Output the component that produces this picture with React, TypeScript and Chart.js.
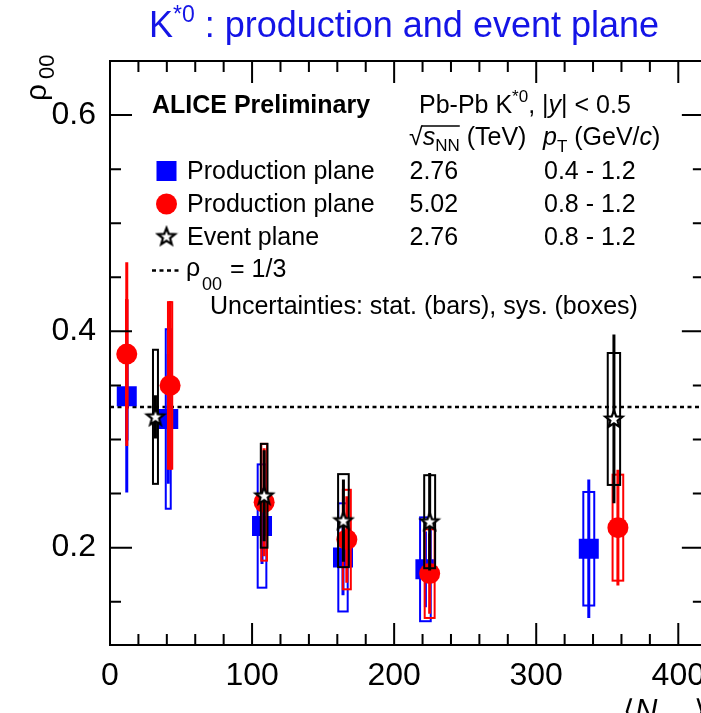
import React, { useEffect, useRef } from 'react';
import { Chart, registerables } from 'chart.js';

Chart.register(...registerables);

// ---------------- data ----------------
// Production plane, Pb-Pb 2.76 TeV, pT 0.4-1.2 (blue squares)
const X_BLUE = [11.8, 41, 107, 164, 222, 337];
const Y_BLUE = [0.34, 0.319, 0.22, 0.191, 0.18, 0.199];
const STAT_BLUE = [0.089, 0.06, 0.035, 0.035, 0.035, 0.064];
const SYS_BLUE = [0.04, 0.083, 0.057, 0.05, 0.048, 0.0525];
const SYSW_BLUE = [1, 3.5, 6.1, 6.6, 7.5, 7.7];

// Production plane, Pb-Pb 5.02 TeV, pT 0.8-1.2 (red circles)
const X_RED = [11.8, 42.3, 108.5, 166.7, 225, 357.5];
const Y_RED = [0.379, 0.35, 0.242, 0.2075, 0.176, 0.2185];
const STAT_RED = [0.085, 0.078, 0.05, 0.04, 0.037, 0.0535];
const SYS_RED = [0.05, 0.077, 0.054, 0.046, 0.041, 0.049];
const SYSW_RED = [1, 3, 4, 5.6, 7, 7.5];

// Event plane, Pb-Pb 2.76 TeV, pT 0.8-1.2 (open stars)
const X_BLACK = [32, 108.5, 164.3, 225, 354.7];
const Y_BLACK = [0.321, 0.248, 0.225, 0.224, 0.319];
const STAT_BLACK = [0.02, 0.042, 0.038, 0.045, 0.078];
const SYS_BLACK = [0.062, 0.048, 0.043, 0.043, 0.061];
const SYSW_BLACK = [3.5, 4.7, 7.5, 7.7, 8.7];

const RHO_LINE = 0.33;

const X_MIN = 0;
const X_MAX = 418;
const X_TICKS = [0, 100, 200, 300, 400];
const X_MINOR_STEP = 20;
const Y_MIN = 0.11;
const Y_MAX = 0.65;
const Y_TICKS = [0.2, 0.4, 0.6];
const Y_MINOR_STEP = 0.05;

const LEGEND_LABELS = ['Production plane', 'Production plane', 'Event plane'];
const LEGEND_SNN = ['2.76', '5.02', '2.76'];
const LEGEND_PT = ['0.4 - 1.2', '0.8 - 1.2', '0.8 - 1.2'];

const FONT = '"Liberation Sans", Arial, Helvetica, sans-serif';
const BLUE = '#0000ff';
const RED = '#ff0000';
const TITLE_BLUE = '#1414e6';

type Seg = { t: string; size?: number; dy?: number; it?: boolean; bold?: boolean };

function setFont(ctx: CanvasRenderingContext2D, s: Seg, base: number) {
  const size = s.size ?? base;
  ctx.font = `${s.it ? 'italic ' : ''}${s.bold ? 'bold ' : ''}${size}px ${FONT}`;
}

function richWidth(ctx: CanvasRenderingContext2D, segs: Seg[], base: number) {
  let w = 0;
  for (const s of segs) {
    setFont(ctx, s, base);
    w += ctx.measureText(s.t).width;
  }
  return w;
}

function drawRich(ctx: CanvasRenderingContext2D, segs: Seg[], x: number, y: number, base: number) {
  let cx = x;
  const pos: number[] = [];
  for (const s of segs) {
    setFont(ctx, s, base);
    pos.push(cx);
    ctx.fillText(s.t, cx, y + (s.dy ?? 0));
    cx += ctx.measureText(s.t).width;
  }
  pos.push(cx);
  return pos;
}

function makeStar(): HTMLCanvasElement {
  const c = document.createElement('canvas');
  c.width = 24;
  c.height = 24;
  const g = c.getContext('2d')!;
  g.beginPath();
  for (let i = 0; i < 10; i++) {
    const r = i % 2 === 0 ? 9 : 3.8;
    const a = -Math.PI / 2 + (i * Math.PI) / 5;
    const px = 12 + r * Math.cos(a);
    const py = 12.5 + r * Math.sin(a);
    if (i === 0) g.moveTo(px, py);
    else g.lineTo(px, py);
  }
  g.closePath();
  g.fillStyle = '#fff';
  g.fill();
  g.lineWidth = 2.2;
  g.strokeStyle = '#000';
  g.lineJoin = 'miter';
  g.stroke();
  return c;
}

function errList(xs: number[], ys: number[], st: number[], sy: number[], w: number[]) {
  return xs.map((x, i) => ({ x, y: ys[i], stat: st[i], sys: sy[i], w: w[i] }));
}

const errPlugin = {
  id: 'errbars',
  beforeDatasetDraw(chart: any, args: any) {
    const ds = chart.data.datasets[args.index];
    if (!ds.err) return;
    const { ctx, chartArea: ca } = chart;
    const x = chart.scales.x;
    const y = chart.scales.y;
    ctx.save();
    ctx.beginPath();
    ctx.rect(ca.left, ca.top, ca.right - ca.left, ca.bottom - ca.top);
    ctx.clip();
    ctx.strokeStyle = ds.errColor;
    for (const e of ds.err) {
      const l = x.getPixelForValue(e.x - e.w / 2);
      const r = x.getPixelForValue(e.x + e.w / 2);
      const t = y.getPixelForValue(e.y + e.sys);
      const b = y.getPixelForValue(e.y - e.sys);
      ctx.lineWidth = 2;
      ctx.strokeRect(l, t, r - l, b - t);
      const px = x.getPixelForValue(e.x);
      ctx.lineWidth = 3;
      ctx.beginPath();
      ctx.moveTo(px, y.getPixelForValue(e.y + e.stat));
      ctx.lineTo(px, y.getPixelForValue(e.y - e.stat));
      ctx.stroke();
    }
    ctx.restore();
  },
};

const framePlugin = {
  id: 'frame',
  afterDatasetsDraw(chart: any) {
    const { ctx, chartArea: ca } = chart;
    const x = chart.scales.x;
    const y = chart.scales.y;
    ctx.save();
    ctx.strokeStyle = '#000';
    ctx.lineWidth = 2;
    ctx.strokeRect(ca.left, ca.top, ca.right - ca.left, ca.bottom - ca.top);
    ctx.beginPath();
    const nx = Math.floor((X_MAX - X_MIN) / X_MINOR_STEP);
    for (let i = 1; i <= nx; i++) {
      const v = X_MIN + i * X_MINOR_STEP;
      const len = X_TICKS.includes(v) ? 22 : 11;
      const px = x.getPixelForValue(v);
      ctx.moveTo(px, ca.bottom);
      ctx.lineTo(px, ca.bottom - len);
      ctx.moveTo(px, ca.top);
      ctx.lineTo(px, ca.top + len);
    }
    const i0 = Math.ceil(Y_MIN / Y_MINOR_STEP - 1e-6);
    const i1 = Math.floor(Y_MAX / Y_MINOR_STEP + 1e-6);
    for (let i = i0; i <= i1; i++) {
      const v = i * Y_MINOR_STEP;
      if (v >= Y_MAX - 1e-6) continue;
      const major = Y_TICKS.some((t) => Math.abs(t - v) < 1e-6);
      const len = major ? 22 : 11;
      const py = y.getPixelForValue(v);
      ctx.moveTo(ca.left, py);
      ctx.lineTo(ca.left + len, py);
      ctx.moveTo(ca.right, py);
      ctx.lineTo(ca.right - len, py);
    }
    ctx.stroke();
    ctx.restore();
  },
};

const textPlugin = {
  id: 'texts',
  afterDraw(chart: any) {
    const ctx: CanvasRenderingContext2D = chart.ctx;
    ctx.save();
    ctx.textBaseline = 'alphabetic';
    ctx.textAlign = 'left';

    // title
    ctx.fillStyle = TITLE_BLUE;
    const tSegs: Seg[] = [
      { t: 'K', size: 36 },
      { t: '*0', size: 23, dy: -15 },
      { t: ' : production and event plane', size: 36 },
    ];
    const tw = richWidth(ctx, tSegs, 36);
    drawRich(ctx, tSegs, 404 - tw / 2, 37, 36);

    ctx.fillStyle = '#000';
    // y axis title
    ctx.save();
    ctx.translate(46, 101);
    ctx.rotate(-Math.PI / 2);
    ctx.font = `30px ${FONT}`;
    ctx.fillText('ρ', 0, 0);
    ctx.font = `22px ${FONT}`;
    ctx.fillText('00', 22, 8);
    ctx.restore();

    // x axis title (cut by the picture edge)
    drawRich(
      ctx,
      [
        { t: '⟨', size: 30 },
        { t: 'N', size: 31, it: true },
        { t: 'part', size: 21, dy: 8 },
        { t: '⟩', size: 30 },
      ],
      623,
      721,
      31
    );

    // legend header
    drawRich(ctx, [{ t: 'ALICE Preliminary', bold: true }], 152, 113, 25);
    drawRich(
      ctx,
      [
        { t: 'Pb-Pb K' },
        { t: '*0', size: 17, dy: -11 },
        { t: ', |' },
        { t: 'y', it: true },
        { t: '| < 0.5' },
      ],
      419,
      113,
      25
    );
    // sqrt(sNN)
    const p = drawRich(
      ctx,
      [{ t: '√' }, { t: 's', it: true }, { t: 'NN', size: 17, dy: 6 }, { t: ' (TeV)' }],
      409,
      145,
      25
    );
    ctx.strokeStyle = '#000';
    ctx.lineWidth = 1.3;
    ctx.beginPath();
    ctx.moveTo(p[1] - 1, 126);
    ctx.lineTo(p[3], 126);
    ctx.stroke();
    drawRich(
      ctx,
      [{ t: 'p', it: true }, { t: 'T', size: 17, dy: 7 }, { t: ' (GeV/' }, { t: 'c', it: true }, { t: ')' }],
      543,
      145,
      25
    );

    const rowBase = [179, 211.5, 245];
    for (let i = 0; i < 3; i++) {
      drawRich(ctx, [{ t: LEGEND_LABELS[i] }], 187, rowBase[i], 25);
      drawRich(ctx, [{ t: LEGEND_SNN[i] }], 409.5, rowBase[i], 25);
      drawRich(ctx, [{ t: LEGEND_PT[i] }], 544, rowBase[i], 25);
    }
    // legend markers
    ctx.fillStyle = BLUE;
    ctx.fillRect(156.5, 161, 20, 20);
    ctx.fillStyle = RED;
    ctx.beginPath();
    ctx.arc(166.5, 204, 10.5, 0, Math.PI * 2);
    ctx.fill();
    const star = chart.data.datasets[2].pointStyle as HTMLCanvasElement;
    ctx.drawImage(star, 166.5 - 12, 237 - 12.5);

    // rho00 = 1/3
    ctx.strokeStyle = '#000';
    ctx.lineWidth = 2.5;
    ctx.setLineDash([4, 3.5]);
    ctx.beginPath();
    ctx.moveTo(152, 270.5);
    ctx.lineTo(181, 270.5);
    ctx.stroke();
    ctx.setLineDash([]);
    ctx.fillStyle = '#000';
    drawRich(ctx, [{ t: 'ρ' }], 186, 276, 25);
    drawRich(ctx, [{ t: '00', size: 18 }], 202, 290, 25);
    drawRich(ctx, [{ t: '= 1/3' }], 230, 277, 25);

    drawRich(ctx, [{ t: 'Uncertainties: stat. (bars), sys. (boxes)' }], 210, 314, 25);
    ctx.restore();
  },
};

export default function App() {
  const ref = useRef<HTMLCanvasElement>(null);
  useEffect(() => {
    const canvas = ref.current;
    if (!canvas) return;
    const star = makeStar();
    const chart = new Chart(canvas, {
      type: 'scatter',
      data: {
        datasets: [
          {
            label: 'Production plane 2.76',
            data: X_BLUE.map((x, i) => ({ x, y: Y_BLUE[i] })),
            pointStyle: 'rect',
            pointRadius: 14.14,
            backgroundColor: BLUE,
            borderColor: BLUE,
            borderWidth: 0,
            order: 3,
            err: errList(X_BLUE, Y_BLUE, STAT_BLUE, SYS_BLUE, SYSW_BLUE),
            errColor: BLUE,
          } as any,
          {
            label: 'Production plane 5.02',
            data: X_RED.map((x, i) => ({ x, y: Y_RED[i] })),
            pointStyle: 'circle',
            pointRadius: 10.5,
            backgroundColor: RED,
            borderColor: RED,
            borderWidth: 0,
            order: 2,
            err: errList(X_RED, Y_RED, STAT_RED, SYS_RED, SYSW_RED),
            errColor: RED,
          } as any,
          {
            label: 'Event plane',
            data: X_BLACK.map((x, i) => ({ x, y: Y_BLACK[i] })),
            pointStyle: star,
            pointRadius: 9,
            backgroundColor: '#fff',
            borderColor: '#000',
            order: 1,
            err: errList(X_BLACK, Y_BLACK, STAT_BLACK, SYS_BLACK, SYSW_BLACK),
            errColor: '#000',
          } as any,
          {
            type: 'line',
            label: 'rho00 = 1/3',
            data: [
              { x: X_MIN, y: RHO_LINE },
              { x: X_MAX, y: RHO_LINE },
            ],
            borderColor: '#000',
            borderWidth: 2.5,
            borderDash: [4, 3.5],
            pointRadius: 0,
            order: 10,
          } as any,
        ],
      },
      options: {
        responsive: false,
        animation: false,
        devicePixelRatio: 1,
        events: [],
        layout: { padding: { top: 61, right: 0, left: 0, bottom: 0 } },
        plugins: { legend: { display: false }, tooltip: { enabled: false }, title: { display: false } },
        scales: {
          x: {
            type: 'linear',
            min: X_MIN,
            max: X_MAX,
            afterBuildTicks: (s: any) => {
              s.ticks = X_TICKS.map((v) => ({ value: v }));
            },
            afterFit: (s: any) => {
              s.height = 68;
            },
            ticks: {
              font: { size: 32, family: FONT },
              color: '#000',
              padding: 12,
              maxRotation: 0,
              autoSkip: false,
              callback: (v: any) => String(v),
            },
            grid: { display: false, drawTicks: false },
            border: { display: false },
          },
          y: {
            type: 'linear',
            min: Y_MIN,
            max: Y_MAX,
            afterBuildTicks: (s: any) => {
              s.ticks = Y_TICKS.map((v) => ({ value: v }));
            },
            afterFit: (s: any) => {
              s.width = 110;
            },
            ticks: {
              font: { size: 32, family: FONT },
              color: '#000',
              padding: 14,
              autoSkip: false,
              callback: (v: any) => Number(v).toFixed(1),
            },
            grid: { display: false, drawTicks: false },
            border: { display: false },
          },
        },
      } as any,
      plugins: [errPlugin, framePlugin, textPlugin],
    });
    return () => chart.destroy();
  }, []);
  return (
    <div
      style={{
        position: 'absolute',
        left: 0,
        top: 0,
        width: 701,
        height: 713,
        overflow: 'hidden',
        background: '#fff',
      }}
    >
      <canvas ref={ref} width={718} height={713} style={{ display: 'block' }} />
    </div>
  );
}
